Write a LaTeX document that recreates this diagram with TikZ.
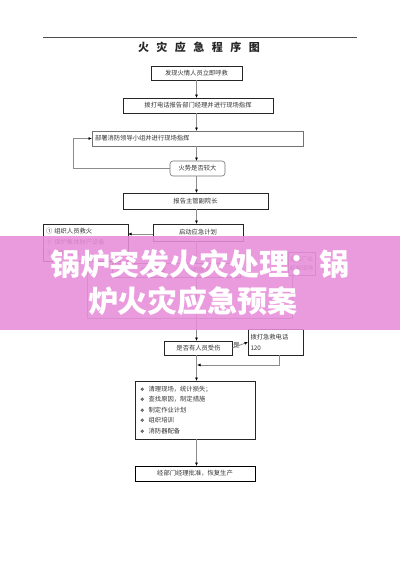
\documentclass[tikz,border=0pt]{standalone}
\usepackage{fontspec}
\newfontfamily\cjk{Noto Sans CJK SC}
\newfontfamily\dejavu{DejaVu Sans}
\usetikzlibrary{arrows.meta,calc}
\definecolor{bannerpink}{RGB}{232,142,218}
\begin{document}
\begin{tikzpicture}[x=1pt,y=-1pt,
  every node/.style={inner sep=0pt, outer sep=0pt},
  box/.style={draw=black!85, line width=0.6pt, font=\cjk\fontsize{6.3}{8}\selectfont, text=black!80},
  gbox/.style={box, draw=black!55},
  conn/.style={draw=black!45, line width=0.8pt},
  arr/.style={conn, -{Latex[length=3.5pt,width=3pt,color=black]}},
  lbl/.style={font=\cjk\fontsize{6.3}{8}\selectfont, text=black!80},
  bannertext/.style={font=\cjk\bfseries\fontsize{30}{32}\selectfont, text=white}
]
\useasboundingbox (0,0) rectangle (400,566);
\fill[white] (0,0) rectangle (400,566);

% header rule and title
\coordinate (rl) at (43,37);
\coordinate (rr) at (357,37);
\draw[black!70, line width=0.8pt] (rl) -- (rr);
\node[font=\cjk\bfseries\fontsize{11}{12}\selectfont, text=black!85] (title) at (199,47)
  {火\hspace{7.5pt}灾\hspace{7.5pt}应\hspace{7.5pt}急\hspace{7.5pt}程\hspace{7.5pt}序\hspace{7.5pt}图};

% boxes
\node[box, minimum width=91pt, minimum height=14pt] (b1) at (196.5,73) {发现火情人员立即呼救};
\node[box, minimum width=150pt, minimum height=15pt] (b2) at (198,105.5) {拨打电话报告部门经理并进行现场指挥};
\node[gbox, minimum width=211pt, minimum height=15pt, text width=205pt, inner xsep=3pt, align=left] (b3) at (197.5,138.5) {部署消防领导小组并进行现场指挥};
\node[gbox, rounded corners=3pt, minimum width=55pt, minimum height=15pt] (b4) at (197.5,168.5) {火势是否较大};
\node[box, minimum width=145pt, minimum height=16pt] (b5) at (195.5,201) {报告主管副院长};
\node[box, minimum width=90pt, minimum height=17pt] (b6) at (198,232.5) {启动应急计划};
\node[box, minimum width=85pt, minimum height=37pt, text width=79pt, inner xsep=3pt, align=left,
      font=\cjk\fontsize{6.3}{11}\selectfont] (lb) at (85.5,242.5) {①\ 组织人员救火\\②\ 保护集体财产设备\\③\ 疏散人员};
\node[gbox, minimum width=27pt, minimum height=23pt, align=center,
      font=\cjk\fontsize{5.8}{9}\selectfont] (rb) at (301.5,263.5) {通知厂长\\赶到现场};
\node[gbox, minimum width=128pt, minimum height=14pt] (mb) at (176,270) {组织疏散\hspace{20pt}查明原因};

\node[box, minimum width=68pt, minimum height=14pt] (b7) at (198.5,348) {是否有人员受伤};
\node[box, minimum width=55pt, minimum height=26pt, text width=50pt, inner xsep=2.5pt, align=left,
      font=\cjk\fontsize{6.3}{11}\selectfont] (b8) at (275.5,342) {拨打急救电话\\120};
\node[lbl] (yes) at (236.5,345) {是};

\node[box, minimum width=120pt, minimum height=58pt, text width=110pt, inner xsep=5pt, align=left,
      font=\cjk\fontsize{6.3}{10.5}\selectfont] (bb) at (195,410)
  {{\dejavu\fontsize{5}{6}\selectfont ❖}\ \ 清理现场，统计损失；\\
   {\dejavu\fontsize{5}{6}\selectfont ❖}\ \ 查找原因，制定措施\\
   {\dejavu\fontsize{5}{6}\selectfont ❖}\ \ 制定作业计划\\
   {\dejavu\fontsize{5}{6}\selectfont ❖}\ \ 组织培训\\
   {\dejavu\fontsize{5}{6}\selectfont ❖}\ \ 消防器配备};
\node[box, line width=1pt, draw=black, minimum width=120pt, minimum height=15pt] (bf) at (195,473.5) {经部门经理批准，恢复生产};

% connectors
\draw[arr] (b1.south) -- (b1.south |- b2.north);
\draw[arr] (b2.south -| b1.south) -- (b1.south |- b3.north);
\draw[arr] (b3.south -| b1.south) -- (b1.south |- b4.north);
\draw[arr] (b4.west) -- ++(-97,0) |- (b3.west);
\draw[arr] (b4.south -| b1.south) -- (b1.south |- b5.north);
\draw[arr] (b5.south -| b1.south) -- (b1.south |- b6.north);
\draw[arr] (b6.west |- 0,234) -- (lb.east |- 0,234);
\coordinate (m) at (196.5,318);
\draw[conn] (b6.south -| b1.south) -- (b1.south |- mb.north);
\draw[conn] (lb.south -| 87,0) |- (m);
\draw[conn] (rb.south -| 292,0) |- (m);
\draw[arr] (b1.south |- mb.south) -- (b1.south |- b7.north);
\draw[arr] (b7.east) -- (b8.west);
\coordinate (j) at (197,365);
\draw[arr] (b8.south -| 279,0) |- (j);
\draw[arr] (b7.south -| b1.south) -- (b1.south |- bb.north);
\draw[arr] (bb.south -| b1.south) -- (b1.south |- bf.north);

% overlay banner
\fill[bannerpink, opacity=0.88] (0,236) rectangle (400,330);
\node[bannertext] (t1) at (200,264) {锅炉突发火灾处理：锅};
\node[bannertext] (t2) at (193,301) {炉火灾应急预案};
\end{tikzpicture}
\end{document}
